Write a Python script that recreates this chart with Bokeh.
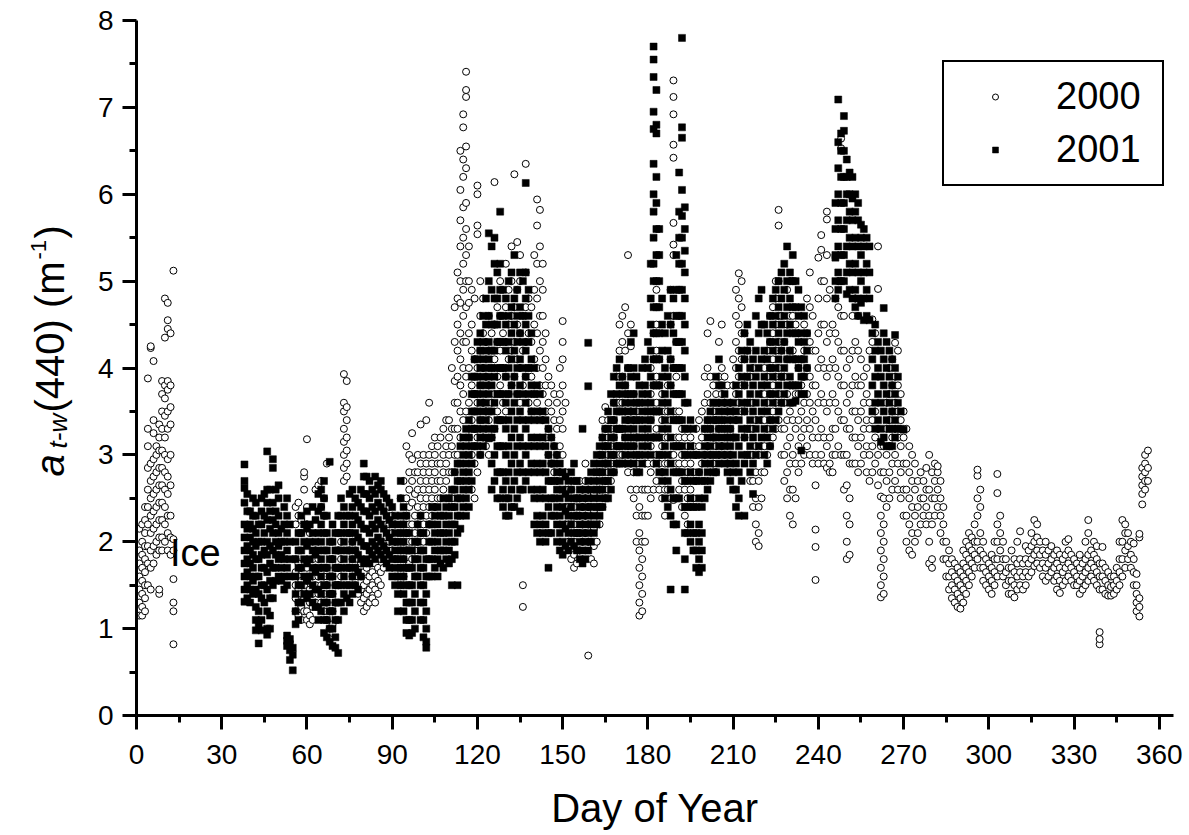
from math import pi

from bokeh.plotting import figure
from bokeh.layouts import row
from bokeh.models import ColumnDataSource, FixedTicker, Label, Legend, LegendItem, Range1d
from bokeh.embed import file_html
from bokeh.resources import INLINE

FONT = "Liberation Sans"

x_ticks = [0, 30, 60, 90, 120, 150, 180, 210, 240, 270, 300, 330, 360]
x_minor = [15, 45, 75, 105, 135, 165, 195, 225, 255, 285, 315, 345]
y_ticks = [0, 1, 2, 3, 4, 5, 6, 7, 8]
y_minor = [0.5, 1.5, 2.5, 3.5, 4.5, 5.5, 6.5, 7.5]
years = ["2000", "2001"]

# 2000 (open circles): (day of year, a_t-w(440) readings that day)
y2000_winter = [
    (1, [1.15, 1.3, 1.45, 1.6, 1.75, 1.9, 2.15]),
    (2, [1.15, 1.25, 1.4, 1.55, 1.7, 1.85, 2.0, 2.2]),
    (3, [1.2, 1.35, 1.5, 1.65, 1.8, 1.95, 2.1, 2.25, 2.4]),
    (4, [1.5, 1.75, 1.95, 2.2, 2.4, 2.6, 2.85, 3.1, 3.3, 3.88]),
    (5, [1.45, 1.7, 1.9, 2.1, 2.3, 2.5, 2.7, 2.9, 4.23, 4.25]),
    (6, [1.75, 1.95, 2.15, 2.35, 2.55, 2.75, 2.95, 3.25, 3.4, 4.08]),
    (7, [1.85, 2.0, 2.2, 2.4, 2.6, 2.8, 3.0, 3.1]),
    (8, [1.4, 1.45, 1.9, 2.05, 2.25, 2.45, 2.65, 2.85, 3.05, 3.2, 3.35]),
    (9, [1.9, 2.05, 2.25, 2.45, 2.65, 2.85, 3.05, 3.3, 3.5, 3.7, 3.85]),
    (10, [2.0, 2.2, 2.4, 2.6, 2.8, 3.0, 3.2, 3.45, 3.65, 3.8, 4.35, 4.8]),
    (11, [1.9, 2.1, 2.3, 2.55, 2.75, 2.95, 3.3, 3.5, 3.75, 3.85, 4.45, 4.55, 4.75]),
    (12, [1.85, 2.05, 2.3, 2.65, 3.0, 3.35, 3.55, 3.8, 4.4]),
    (13, [0.82, 1.2, 1.3, 1.57, 1.9, 2.03, 5.12]),
]

y2000_spring = [
    (56, [1.2, 1.35, 1.5, 1.65, 1.8, 2.2, 2.4]),
    (57, [1.15, 1.3, 1.45, 1.6, 1.75, 2.3, 2.45]),
    (58, [1.1, 1.25, 1.4, 1.55, 1.7, 2.1, 2.25]),
    (59, [1.2, 1.35, 1.5, 2.6, 2.75, 2.8]),
    (60, [1.1, 1.2, 1.4, 1.55, 1.7, 2.2, 2.4, 3.18]),
    (61, [1.05, 1.15, 1.3, 1.45, 1.6, 2.1]),
    (62, [1.1, 1.25, 1.4, 1.6, 1.8]),
    (63, [1.3, 1.5, 1.7, 1.9, 2.6]),
    (64, [1.4, 1.6, 1.8, 2.65]),
    (65, [1.3, 1.5, 1.7, 2.4, 2.7]),
    (66, [1.2, 1.4, 1.6, 2.3, 2.5]),
    (67, [1.1, 1.3, 1.5, 1.7, 2.9]),
    (68, [0.88, 1.0, 1.2, 1.4, 1.6]),
    (69, [1.05, 1.2, 1.4, 1.6, 1.8]),
    (70, [1.3, 1.5, 1.7]),
    (71, [1.5, 1.7, 1.9]),
    (72, [1.6, 1.8, 2.0]),
    (73, [2.7, 2.85, 3.0, 3.15, 3.3, 3.5, 3.6, 3.93]),
    (74, [2.75, 2.9, 3.05, 3.2, 3.4, 3.55, 3.85]),
    (75, [1.7, 1.9, 2.1]),
    (76, [1.6, 1.8, 2.0]),
    (77, [1.5, 1.7, 1.9]),
    (78, [1.4, 1.6, 1.8]),
    (79, [1.3, 1.45, 1.6, 1.75]),
    (80, [1.2, 1.35, 1.5, 1.65]),
    (81, [1.25, 1.4, 1.55, 1.7]),
    (82, [1.3, 1.45, 1.6, 1.75]),
    (83, [1.35, 1.5, 1.65, 1.8]),
    (84, [1.3, 1.45, 1.6, 1.75]),
    (85, [1.4, 1.55, 1.7, 1.85]),
    (86, [1.5, 1.65, 1.8, 1.95]),
    (87, [1.7, 1.85, 2.0]),
    (88, [1.9, 2.05, 2.2]),
    (89, [2.0, 2.2, 2.4]),
    (90, [1.9, 2.1, 2.3]),
    (91, [1.8, 2.0, 2.2]),
    (92, [1.6, 1.8, 2.0]),
    (93, [1.5, 1.7, 1.9, 2.1, 2.5]),
    (94, [1.6, 1.8, 2.0, 2.2, 2.7]),
    (95, [1.7, 1.9, 2.1, 2.3, 2.5, 3.1]),
    (96, [1.75, 2.0, 2.2, 2.4, 2.6, 2.8, 3.0]),
    (97, [1.8, 2.0, 2.2, 2.45, 2.7, 2.95, 3.25]),
    (98, [1.9, 2.1, 2.3, 2.55, 2.8]),
    (99, [2.0, 2.2, 2.4, 2.6, 2.8, 3.0]),
    (100, [2.1, 2.3, 2.5, 2.7, 2.9, 3.35]),
    (101, [2.0, 2.2, 2.4, 2.6, 2.8, 3.0]),
    (102, [2.1, 2.3, 2.5, 2.7, 2.9, 3.4]),
    (103, [2.2, 2.4, 2.6, 2.8, 3.0, 3.6]),
    (104, [2.3, 2.5, 2.7, 2.9, 3.1]),
    (105, [2.4, 2.6, 2.8, 3.0, 3.2]),
    (106, [2.5, 2.7, 2.9, 3.1]),
    (107, [2.5, 2.7, 2.9, 3.2]),
    (108, [2.6, 2.8, 3.0, 3.3]),
    (109, [2.7, 2.9, 3.1, 3.4]),
    (110, [2.5, 2.8, 3.0, 3.2, 3.4]),
    (111, [2.5, 2.8, 3.1, 3.3, 4.0]),
    (112, [2.8, 3.0, 3.3, 3.6, 3.85, 4.3, 4.7]),
    (113, [3.0, 3.3, 3.6, 3.9, 4.2, 4.5, 4.8, 5.1]),
    (114, [3.2, 3.5, 3.8, 4.1, 4.4, 4.75, 5.0, 5.4, 5.7, 6.05, 6.5]),
    (115, [3.4, 3.7, 4.0, 4.3, 4.6, 4.9, 5.2, 5.5, 5.85, 6.2, 6.4, 6.77, 6.92]),
    (116, [3.5, 3.9, 4.3, 4.7, 5.0, 5.3, 5.6, 5.9, 6.3, 6.55, 7.12, 7.2, 7.41]),
    (117, [3.2, 3.6, 4.0, 4.4, 4.75, 5.0, 5.4]),
    (118, [2.6, 3.0, 3.4, 3.8, 4.2, 4.5, 4.9]),
    (119, [2.5, 2.9, 3.3, 3.7, 4.1, 4.8]),
    (120, [2.8, 3.2, 3.6, 4.0, 5.54, 5.64, 6.0, 6.1]),
    (121, [3.0, 3.4, 3.8, 4.2, 4.6, 5.0]),
    (122, [3.2, 3.6, 4.0, 4.4, 4.8]),
    (123, [3.1, 3.5, 3.9, 4.3]),
    (124, [3.0, 3.4, 3.8, 4.2, 4.6]),
    (125, [3.2, 3.6, 4.0, 4.4]),
    (126, [3.3, 3.7, 4.1, 4.5, 6.14]),
    (127, [3.5, 3.9, 4.3, 4.7]),
    (128, [3.4, 3.8, 4.2, 4.6, 5.0]),
    (129, [3.6, 4.0, 4.4]),
    (130, [3.5, 3.9, 4.3, 4.7, 5.2]),
    (131, [3.7, 4.1, 4.5, 4.9]),
    (132, [3.8, 4.2, 4.6, 5.0, 5.4]),
    (133, [3.9, 4.3, 4.7, 6.23]),
    (134, [3.7, 4.1, 4.5, 4.9, 5.45]),
    (135, [3.6, 4.0, 4.4, 5.0, 5.3]),
    (136, [1.25, 1.5, 3.8, 4.2, 4.6]),
    (137, [3.9, 4.3, 4.7, 5.1, 6.35]),
    (138, [3.6, 4.0, 4.4, 4.8]),
    (139, [3.5, 3.9, 4.3, 4.7]),
    (140, [3.7, 4.1, 4.5, 4.9, 5.3]),
    (141, [3.6, 4.0, 4.4, 4.8, 5.2, 5.64, 5.94]),
    (142, [3.5, 3.8, 4.2, 4.6, 5.0, 5.4, 5.82]),
    (143, [3.4, 3.7, 4.0, 4.3, 4.6, 4.9, 5.2]),
    (144, [3.2, 3.5, 3.8, 4.1, 4.4]),
    (145, [3.0, 3.3, 3.6, 3.9]),
    (146, [2.9, 3.2, 3.5, 3.8]),
    (147, [2.8, 3.1, 3.4, 3.7]),
    (148, [2.7, 3.0, 3.3, 3.6]),
    (149, [2.8, 3.1, 3.4, 3.7, 4.0]),
    (150, [3.0, 3.3, 3.5, 3.8, 4.1, 4.3, 4.54]),
]

y2000_summer = [
    (151, [2.2, 2.4, 2.6, 2.8, 3.6]),
    (152, [2.0, 2.2, 2.4, 2.6]),
    (153, [1.8, 2.0, 2.2, 2.4, 2.6]),
    (154, [1.7, 1.85, 2.0, 2.2, 2.4]),
    (155, [1.75, 1.9, 2.1, 2.3, 2.5]),
    (156, [1.9, 2.1, 2.3, 2.5, 2.7]),
    (157, [2.0, 2.2, 2.4, 2.6]),
    (158, [2.1, 2.3, 2.5, 2.7, 2.9]),
    (159, [0.69, 2.0, 2.2, 2.4, 2.6]),
    (160, [1.8, 2.0, 2.2, 2.4]),
    (161, [1.75, 1.95, 2.15, 2.35, 2.55]),
    (162, [2.0, 2.2, 2.4, 2.6, 2.8]),
    (163, [2.2, 2.4, 2.6, 2.8, 3.0]),
    (164, [2.4, 2.6, 2.8, 3.0, 3.2, 3.4]),
    (165, [2.5, 2.7, 2.9, 3.1, 3.3, 3.55]),
    (166, [2.6, 2.8, 3.0, 3.2, 3.4]),
    (167, [2.7, 2.9, 3.1, 3.3]),
    (168, [2.8, 3.0, 3.2, 3.4, 3.6]),
    (169, [2.9, 3.1, 3.3, 3.6, 3.9]),
    (170, [3.0, 3.3, 3.6, 3.9, 4.2, 4.5]),
    (171, [3.0, 3.3, 3.6, 3.9, 4.3, 4.6]),
    (172, [2.9, 3.2, 3.5, 3.8, 4.2, 4.7]),
    (173, [2.8, 3.1, 3.4, 3.7, 4.0, 4.4, 5.3]),
    (174, [2.6, 2.9, 3.2, 3.5, 4.25, 4.5]),
    (175, [2.5, 2.8, 3.1, 3.4, 3.7]),
    (176, [2.0, 2.3, 2.6, 2.9, 3.2, 3.5]),
    (177, [1.15, 1.3, 1.5, 1.7, 1.9, 2.1, 2.4]),
    (178, [1.2, 1.4, 1.6, 1.8, 2.0, 2.3, 2.6]),
    (179, [2.0, 2.3, 2.6, 2.9, 3.2]),
    (180, [2.3, 2.6, 2.9, 3.2, 3.5]),
    (181, [2.5, 2.8, 3.1, 3.4, 3.7, 4.0]),
    (182, [2.6, 2.9, 3.2, 3.5, 3.8, 4.1, 4.4]),
    (183, [2.7, 3.0, 3.3, 3.6, 3.9, 4.2, 4.5, 4.9]),
    (184, [2.6, 2.9, 3.2, 3.5, 3.8, 4.1]),
    (185, [2.5, 2.8, 3.1, 3.4, 3.7]),
    (186, [2.3, 2.6, 2.9, 3.2, 3.5]),
    (187, [2.6, 2.9, 3.2, 3.5, 3.8]),
    (188, [2.5, 3.0, 3.4, 3.8, 4.1, 4.5, 4.9]),
    (189, [2.48, 3.0, 3.5, 4.0, 4.6, 5.3, 5.42, 5.67, 6.42, 6.57, 6.92, 7.12, 7.31]),
    (190, [2.9, 3.2, 3.5, 3.9, 4.3]),
    (191, [2.6, 2.9, 3.2, 3.5]),
    (192, [2.4, 2.7, 3.0, 3.3]),
    (193, [2.3, 2.6, 2.9, 3.2]),
    (194, [2.2, 2.5, 2.8, 3.1]),
    (195, [2.4, 2.6, 2.9, 3.2]),
    (196, [2.5, 2.8, 3.1]),
    (197, [2.7, 3.0, 3.3]),
    (198, [2.8, 3.1, 3.4]),
    (199, [2.9, 3.2, 3.5]),
    (200, [3.0, 3.3, 3.6, 3.9]),
    (201, [3.1, 3.4, 3.7, 4.0, 4.4]),
    (202, [3.0, 3.3, 3.6, 3.9, 4.54]),
    (203, [2.9, 3.2, 3.5, 3.8]),
    (204, [2.8, 3.1, 3.4, 3.7]),
    (205, [3.0, 3.3, 3.6, 3.9, 4.3]),
    (206, [3.1, 3.4, 3.7, 4.0, 4.5]),
    (207, [3.0, 3.3, 3.6, 3.9]),
    (208, [2.9, 3.2, 3.5, 3.8]),
    (209, [3.0, 3.3, 3.6]),
    (210, [3.2, 3.5, 3.8, 4.1]),
    (211, [3.4, 3.7, 4.0, 4.3, 4.6, 4.9]),
    (212, [3.6, 3.9, 4.2, 4.5, 4.8, 5.09]),
    (213, [3.5, 3.8, 4.1, 4.4, 4.7, 5.0]),
    (214, [3.2, 3.5, 3.8, 4.1, 4.4]),
    (215, [3.0, 3.3, 3.6, 3.9, 4.2]),
    (216, [2.7, 3.0, 3.3, 3.6, 3.9]),
    (217, [2.4, 2.7, 3.0, 3.3, 3.6, 4.0]),
    (218, [2.0, 2.2, 2.5, 2.8, 3.1, 3.4]),
    (219, [1.95, 2.1, 2.4, 2.7, 3.0]),
    (220, [2.5, 2.8, 3.1, 3.4, 3.7]),
    (221, [2.8, 3.1, 3.4, 3.7, 4.0]),
    (222, [3.0, 3.3, 3.6, 3.9, 4.2]),
    (223, [3.1, 3.4, 3.7, 4.0, 4.3, 4.6]),
    (224, [3.2, 3.5, 3.8, 4.1, 4.4, 4.7]),
    (225, [3.3, 3.6, 3.9, 4.2, 4.5, 4.8, 5.0]),
    (226, [3.4, 3.7, 4.0, 4.3, 4.6, 5.0, 5.64, 5.82]),
    (227, [3.0, 3.3, 3.6, 3.9, 4.2, 4.6]),
    (228, [2.7, 3.0, 3.3, 3.6, 3.9, 4.3]),
    (229, [2.5, 2.8, 3.1, 3.4, 3.7, 4.1, 4.5, 4.9]),
    (230, [2.3, 2.6, 2.9, 3.2, 3.5, 3.8, 4.2, 4.6, 5.0]),
    (231, [2.2, 2.6, 3.0, 3.4, 3.8, 4.2, 4.6, 5.0]),
    (232, [2.5, 2.9, 3.3, 3.7, 4.1, 4.5]),
    (233, [2.8, 3.1, 3.4, 3.7, 4.0, 4.4]),
    (234, [2.9, 3.2, 3.5, 3.8, 4.1]),
    (235, [3.0, 3.3, 3.6, 3.9, 4.2, 4.5]),
    (236, [3.1, 3.4, 3.7, 4.0, 4.4, 4.8]),
    (237, [3.0, 3.3, 3.6, 3.9, 4.3, 4.7, 5.1]),
    (238, [2.9, 3.2, 3.5, 3.8, 4.2, 4.6]),
    (239, [1.56, 1.94, 2.14, 2.65, 3.0, 3.4, 3.8, 4.2]),
    (240, [2.9, 3.2, 3.6, 4.0, 4.4, 4.8, 5.27]),
    (241, [3.0, 3.3, 3.7, 4.1, 4.5, 5.0, 5.36, 5.53]),
    (242, [2.9, 3.2, 3.6, 4.0, 4.5, 5.0]),
    (243, [2.85, 3.1, 3.5, 3.9, 4.3, 4.8, 5.3, 5.71, 5.8]),
    (244, [2.8, 2.9, 3.2, 3.6, 4.0, 4.4, 4.9]),
    (245, [2.8, 3.0, 3.3, 3.7, 4.1, 4.5]),
    (246, [3.0, 3.3, 3.6, 4.0, 4.4, 4.8]),
    (247, [3.1, 3.5, 3.9, 4.3, 4.7, 5.0]),
    (248, [3.0, 3.4, 3.8, 4.2, 4.6, 5.0, 6.53, 6.64]),
    (249, [2.6, 3.0, 3.4, 3.8, 4.2, 4.6]),
    (250, [1.8, 2.0, 2.3, 2.65, 3.0, 3.3, 3.6, 4.0]),
]

y2000_autumn = [
    (251, [1.85, 2.2, 2.5, 2.9, 3.3, 3.7, 4.1]),
    (252, [2.9, 3.2, 3.5, 3.8, 4.2, 4.6]),
    (253, [2.9, 3.2, 3.5, 3.9, 4.3, 4.8]),
    (254, [2.8, 3.1, 3.4, 3.8, 4.2, 4.6]),
    (255, [2.9, 3.2, 3.5, 3.8, 4.1]),
    (256, [3.0, 3.3, 3.6, 3.9]),
    (257, [2.8, 3.1, 3.4, 3.7, 4.0]),
    (258, [2.7, 3.0, 3.3, 3.6, 4.2]),
    (259, [2.8, 3.1, 3.4, 4.3, 4.56]),
    (260, [2.9, 3.2, 3.5, 4.4]),
    (261, [2.65, 3.0, 3.3, 4.91, 5.4]),
    (262, [1.36, 1.5, 1.7, 1.9, 2.1, 2.3, 2.52, 2.8, 3.1]),
    (263, [1.4, 1.6, 1.8, 2.0, 2.2, 2.5, 2.8, 3.1]),
    (264, [2.4, 2.7, 3.0, 3.3, 3.6]),
    (265, [2.5, 2.8, 3.1, 3.4, 3.7, 4.0]),
    (266, [2.6, 2.9, 3.2, 3.5, 3.8, 4.1]),
    (267, [2.7, 3.0, 3.3, 3.6, 3.9, 4.29]),
    (268, [2.6, 2.9, 3.2, 3.5, 3.8, 4.2]),
    (269, [2.5, 2.8, 3.1, 3.4, 3.7]),
    (270, [2.3, 2.6, 2.9, 3.2, 3.5]),
    (271, [2.0, 2.3, 2.6, 2.9, 3.3]),
    (272, [1.9, 2.2, 2.5, 2.8, 3.1]),
    (273, [1.85, 2.1, 2.4, 2.7, 3.0]),
    (274, [2.0, 2.3, 2.6, 2.9]),
    (275, [2.1, 2.4, 2.7]),
    (276, [2.2, 2.5, 2.8]),
    (277, [2.3, 2.5, 2.7]),
    (278, [2.2, 2.4, 2.6, 2.85]),
    (279, [1.75, 2.0, 2.3, 2.6, 3.0]),
    (280, [1.7, 1.8, 2.2, 2.5, 2.8]),
    (281, [2.3, 2.5, 2.7, 2.9]),
    (282, [2.4, 2.6, 2.8, 2.87]),
    (283, [2.1, 2.3, 2.5, 2.7]),
    (284, [1.8, 2.0, 2.2, 2.4]),
    (285, [1.6, 1.8, 2.0]),
    (286, [1.45, 1.6, 1.75, 1.9]),
    (287, [1.35, 1.5, 1.65, 1.8]),
    (288, [1.3, 1.45, 1.6, 1.75]),
    (289, [1.25, 1.4, 1.55, 1.7]),
    (290, [1.23, 1.35, 1.5, 1.65]),
    (291, [1.3, 1.45, 1.6, 1.75, 1.9]),
    (292, [1.4, 1.55, 1.7, 1.85, 2.0]),
    (293, [1.5, 1.65, 1.8, 1.95, 2.1]),
    (294, [1.6, 1.75, 1.9, 2.05]),
    (295, [1.7, 1.85, 2.0, 2.2]),
    (296, [1.8, 2.0, 2.3, 2.5, 2.76, 2.83]),
    (297, [1.7, 1.9, 2.1, 2.4, 2.6]),
    (298, [1.55, 1.7, 1.85, 2.0]),
    (299, [1.5, 1.65, 1.8]),
    (300, [1.45, 1.6, 1.75]),
    (301, [1.4, 1.55, 1.7, 1.85]),
    (302, [1.5, 1.65, 1.8, 2.0]),
    (303, [1.6, 1.8, 2.0, 2.2, 2.56, 2.78]),
    (304, [1.7, 1.9, 2.1, 2.3]),
    (305, [1.6, 1.8, 2.0]),
    (306, [1.5, 1.65, 1.8]),
    (307, [1.4, 1.55, 1.7]),
    (308, [1.4, 1.55, 1.7, 1.9]),
    (309, [1.36, 1.5, 1.65, 1.8]),
    (310, [1.45, 1.6, 1.75, 2.0]),
    (311, [1.5, 1.65, 1.8, 2.12]),
    (312, [1.45, 1.6, 1.75]),
    (313, [1.5, 1.65, 1.8, 1.95]),
    (314, [1.6, 1.75, 1.9]),
    (315, [1.65, 1.8, 1.95, 2.1]),
    (316, [1.72, 1.85, 2.0, 2.25]),
    (317, [1.75, 1.9, 2.05, 2.2]),
    (318, [1.7, 1.85, 2.0]),
    (319, [1.6, 1.75, 1.9]),
    (320, [1.55, 1.7, 1.85, 2.0]),
    (321, [1.6, 1.75, 1.9]),
    (322, [1.65, 1.8, 1.95]),
    (323, [1.55, 1.7, 1.85]),
    (324, [1.45, 1.6, 1.75, 1.9]),
    (325, [1.41, 1.55, 1.7, 1.85]),
    (326, [1.5, 1.65, 1.8]),
    (327, [1.55, 1.7, 1.85, 2.0]),
    (328, [1.6, 1.75, 1.9, 2.03]),
    (329, [1.55, 1.7, 1.85]),
    (330, [1.5, 1.65, 1.8]),
    (331, [1.5, 1.6, 1.75]),
    (332, [1.4, 1.55, 1.7, 1.85]),
    (333, [1.45, 1.6, 1.75]),
    (334, [1.5, 1.65, 1.8, 2.0]),
    (335, [1.55, 1.7, 1.85, 2.1, 2.25]),
    (336, [1.6, 1.75, 1.9]),
    (337, [1.55, 1.7, 1.85, 2.0]),
    (338, [1.5, 1.65, 1.8, 1.95]),
    (339, [0.82, 0.88, 0.96, 1.45, 1.6, 1.75]),
    (340, [1.45, 1.6, 1.75, 1.94]),
    (341, [1.4, 1.55, 1.7]),
    (342, [1.38, 1.5, 1.65]),
    (343, [1.38, 1.48, 1.6]),
    (344, [1.4, 1.5, 1.6]),
    (345, [1.45, 1.55, 1.7]),
    (346, [1.5, 1.65, 1.8, 2.0]),
    (347, [1.6, 1.8, 2.0, 2.25]),
    (348, [1.7, 1.9, 2.1, 2.2]),
    (349, [1.8, 1.95, 2.1]),
    (350, [1.7, 1.85, 2.0]),
    (351, [1.5, 1.65, 1.8, 1.98]),
    (352, [1.2, 1.3, 1.4, 1.5, 1.63]),
    (353, [1.14, 1.25, 1.35, 2.05, 2.09]),
    (354, [2.43, 2.55, 2.65, 2.75, 2.85]),
    (355, [2.6, 2.7, 2.8, 2.9, 3.0]),
    (356, [2.7, 2.85, 3.05]),
]

# 2001 (filled squares)
y2001_spring = [
    (38, [2.89, 2.7, 2.62, 2.45, 2.2, 2.05, 1.9, 1.75, 1.6, 1.45, 1.31]),
    (39, [2.55, 2.35, 2.15, 1.95, 1.8, 1.65, 1.5, 1.35]),
    (40, [2.35, 2.2, 2.05, 1.9, 1.75, 1.6, 1.45, 1.3]),
    (41, [2.5, 2.3, 2.15, 2.0, 1.85, 1.7, 1.55, 1.4]),
    (42, [2.45, 2.3, 2.1, 1.95, 1.8, 1.6, 1.45, 1.25, 1.1, 0.98]),
    (43, [2.2, 2.0, 1.8, 1.6, 1.4, 1.2, 1.05, 0.83]),
    (44, [2.5, 2.35, 2.2, 2.0, 1.85, 1.7, 1.5, 1.35, 1.1, 0.98]),
    (45, [2.55, 2.3, 2.1, 1.9, 1.7, 1.5, 1.3]),
    (46, [3.04, 2.6, 2.45, 2.25, 2.0, 1.85, 1.65, 1.45, 1.2, 1.0, 0.93]),
    (47, [2.6, 2.35, 2.15, 1.95, 1.75, 1.55, 1.35, 1.15, 1.0]),
    (48, [2.95, 2.85, 2.45, 2.25, 2.1, 1.9, 1.7, 1.5, 1.35]),
    (49, [2.6, 2.35, 2.2, 2.0, 1.85, 1.7, 1.55]),
    (50, [2.65, 2.5, 2.3, 2.1, 1.95, 1.8, 1.6]),
    (51, [2.15, 2.0, 1.85, 1.7, 1.55]),
    (52, [2.4, 2.2, 2.0, 1.8, 1.6, 1.45]),
    (53, [2.5, 2.3, 2.1, 1.9, 1.7, 1.5, 0.92, 0.86, 0.8]),
    (54, [2.2, 2.0, 1.8, 1.6, 0.88, 0.82, 0.75, 0.64]),
    (55, [0.78, 0.7, 0.52]),
    (56, [2.0, 1.8, 1.6, 1.4, 1.2, 1.05]),
    (57, [2.1, 1.9, 1.7, 1.5, 1.3, 1.1]),
    (58, [2.3, 2.1, 1.9, 1.7, 1.5, 1.3]),
    (59, [2.2, 2.0, 1.8, 1.6, 1.4]),
    (60, [2.35, 2.15, 1.95, 1.75, 1.55, 1.35]),
    (61, [2.2, 2.0, 1.8, 1.6, 1.4]),
    (62, [2.4, 2.1, 1.9, 1.7, 1.5, 1.3]),
    (63, [2.25, 2.0, 1.85, 1.65, 1.45, 1.25]),
    (64, [2.55, 2.35, 2.1, 1.9, 1.7, 1.45, 1.25, 1.1]),
    (65, [2.6, 2.4, 2.2, 2.0, 1.8, 1.6, 1.4, 1.2]),
    (66, [2.7, 2.5, 2.3, 2.1, 1.9, 1.7, 1.5, 1.3, 1.1, 0.95]),
    (67, [2.3, 2.1, 1.9, 1.7, 1.5, 1.3, 1.1, 0.9]),
    (68, [2.92, 2.0, 1.8, 1.6, 1.4, 1.2, 1.0, 0.85]),
    (69, [2.2, 2.0, 1.8, 1.6, 1.4, 1.2, 1.0, 0.8]),
    (70, [2.1, 1.9, 1.7, 1.5, 1.3, 1.1, 0.9, 0.78]),
    (71, [2.3, 2.1, 1.9, 1.7, 1.5, 1.3, 1.1, 0.72]),
    (72, [2.5, 2.3, 2.1, 1.9, 1.7, 1.5, 1.3]),
    (73, [2.4, 2.2, 2.0, 1.8, 1.6, 1.4, 1.2]),
    (74, [2.3, 2.1, 1.9, 1.7, 1.5, 1.35]),
    (75, [2.55, 2.3, 2.1, 1.9, 1.7, 1.5, 1.3]),
    (76, [2.6, 2.4, 2.2, 2.0, 1.8, 1.6, 1.4]),
    (77, [2.5, 2.3, 2.1, 1.9, 1.7, 1.5]),
    (78, [2.45, 2.25, 2.05, 1.85, 1.65, 1.45]),
    (79, [2.6, 2.4, 2.2, 2.0, 1.8, 1.6]),
    (80, [2.9, 2.75, 2.55, 2.35, 2.15, 1.95, 1.75]),
    (81, [2.75, 2.55, 2.35, 2.15, 1.95, 1.8]),
    (82, [2.7, 2.5, 2.3, 2.1, 1.9, 1.75]),
    (83, [2.6, 2.4, 2.2, 2.0, 1.85]),
    (84, [2.75, 2.55, 2.35, 2.15, 1.95, 1.8]),
    (85, [2.65, 2.45, 2.25, 2.05, 1.9]),
    (86, [2.7, 2.6, 2.4, 2.2, 2.0, 1.85]),
    (87, [2.55, 2.35, 2.15, 1.95, 1.8]),
    (88, [2.5, 2.3, 2.1, 1.9, 1.75]),
    (89, [2.45, 2.25, 2.05, 1.85, 1.7]),
    (90, [2.4, 2.2, 2.0, 1.8, 1.6]),
    (91, [2.3, 2.1, 1.9, 1.7, 1.5]),
    (92, [2.2, 2.0, 1.8, 1.6, 1.4, 1.2]),
    (93, [2.7, 2.5, 2.3, 2.1, 1.9, 1.7, 1.5]),
    (94, [2.4, 2.2, 2.0, 1.8, 1.6, 1.4, 1.2]),
    (95, [2.3, 2.1, 1.9, 1.7, 1.5, 1.3, 1.1, 0.95]),
    (96, [2.1, 1.9, 1.7, 1.5, 1.3, 1.1, 0.92]),
    (97, [1.9, 1.7, 1.5, 1.3, 1.1, 0.95]),
    (98, [2.0, 1.8, 1.6, 1.4, 1.2, 1.0]),
    (99, [2.2, 2.0, 1.8, 1.6]),
    (100, [2.3, 2.1, 1.9, 1.7, 1.5, 1.3, 1.1]),
    (101, [2.1, 1.9, 1.7, 1.5, 1.3, 1.1, 0.9]),
    (102, [1.8, 1.6, 1.4, 1.2, 1.0, 0.85, 0.78]),
    (103, [2.2, 2.0, 1.8, 1.6]),
    (104, [2.4, 2.2, 2.0, 1.8, 1.6]),
    (105, [2.3, 2.1, 1.9, 1.7]),
    (106, [2.4, 2.2, 2.0, 1.8, 1.6]),
    (107, [2.3, 2.1, 1.9, 1.75]),
    (108, [2.5, 2.3, 2.1, 1.9, 1.7]),
    (109, [2.4, 2.2, 2.0, 1.8]),
    (110, [2.5, 2.3, 2.1, 1.9, 1.75]),
    (111, [2.6, 2.4, 2.2, 2.0, 1.8, 1.5]),
    (112, [2.8, 2.6, 2.4, 2.2, 2.0, 1.85]),
]

y2001_summer = [
    (113, [2.9, 2.7, 2.5, 2.3, 2.1, 1.5]),
    (114, [3.1, 2.9, 2.7, 2.5, 2.3, 2.15]),
    (115, [3.2, 3.0, 2.8, 2.6, 2.4]),
    (116, [3.3, 3.1, 2.9, 2.7, 2.5, 2.3]),
    (117, [3.4, 3.2, 3.0, 2.8, 2.6, 2.4]),
    (118, [3.9, 3.7, 3.5, 3.3, 3.1, 2.9, 2.7]),
    (119, [4.1, 3.9, 3.7, 3.5, 3.3, 3.1]),
    (120, [4.3, 4.1, 3.9, 3.7, 3.5, 3.3, 3.1]),
    (121, [4.4, 4.2, 4.0, 3.8, 3.6, 3.4, 3.2, 3.0]),
    (122, [4.6, 4.3, 4.1, 3.9, 3.7, 3.5, 3.3, 3.1]),
    (123, [4.8, 4.5, 4.2, 4.0, 3.8, 3.6, 3.4, 3.2]),
    (124, [5.55, 5.0, 4.6, 4.3, 4.1, 3.9, 3.7, 3.5, 3.3, 3.19]),
    (125, [5.4, 4.9, 4.5, 4.2, 4.0, 3.8, 3.5, 3.2, 2.9, 2.6]),
    (126, [5.5, 5.2, 4.8, 4.5, 4.2, 3.9, 3.6, 3.3, 3.0, 2.7]),
    (127, [5.1, 4.8, 4.5, 4.3, 4.0, 3.7, 3.4, 3.1, 2.8, 2.5]),
    (128, [5.8, 5.2, 4.9, 4.6, 4.3, 4.0, 3.7, 3.4, 3.1, 2.8, 2.5]),
    (129, [4.9, 4.6, 4.3, 4.0, 3.7, 3.4, 3.1, 2.8, 2.6, 2.4]),
    (130, [4.8, 4.5, 4.2, 3.9, 3.6, 3.3, 3.0, 2.7, 2.5, 2.3]),
    (131, [5.0, 4.6, 4.3, 4.0, 3.7, 3.4, 3.1, 2.8, 2.5, 2.3]),
    (132, [5.1, 4.7, 4.4, 4.1, 3.8, 3.5, 3.2, 2.9, 2.6, 2.4]),
    (133, [5.3, 4.8, 4.5, 4.2, 3.9, 3.6, 3.3, 3.0, 2.7, 2.4]),
    (134, [4.9, 4.6, 4.3, 4.0, 3.7, 3.4, 3.1, 2.8, 2.5]),
    (135, [5.1, 4.7, 4.4, 4.1, 3.8, 3.5, 3.2, 2.9, 2.6, 2.35]),
    (136, [5.0, 4.6, 4.3, 4.0, 3.7, 3.4, 3.1, 2.8, 2.6]),
    (137, [6.13, 5.1, 4.8, 4.5, 4.2, 3.9, 3.6, 3.3, 3.0, 2.7]),
    (138, [4.9, 4.6, 4.3, 4.0, 3.7, 3.4, 3.1, 2.8]),
    (139, [4.4, 4.1, 3.8, 3.5, 3.2, 2.9, 2.6]),
    (140, [4.0, 3.7, 3.4, 3.1, 2.8, 2.5, 2.2]),
    (141, [3.8, 3.5, 3.2, 2.9, 2.6, 2.3, 2.1]),
    (142, [3.7, 3.4, 3.1, 2.8, 2.5, 2.2, 2.0]),
    (143, [3.5, 3.2, 2.9, 2.6, 2.3, 2.1]),
    (144, [3.4, 3.1, 2.8, 2.5, 2.2, 2.0]),
    (145, [3.3, 3.0, 2.7, 2.4, 2.1, 1.7]),
    (146, [3.2, 2.9, 2.7, 2.5, 2.3, 2.1]),
    (147, [3.1, 2.9, 2.7, 2.5, 2.3]),
    (148, [3.0, 2.8, 2.6, 2.4, 2.2, 2.0]),
    (149, [2.9, 2.7, 2.5, 2.3, 2.1, 1.9]),
    (150, [2.8, 2.6, 2.4, 2.2, 2.0, 1.85]),
    (151, [2.75, 2.55, 2.35, 2.15, 1.95]),
    (152, [2.7, 2.5, 2.3, 2.1, 1.9]),
    (153, [2.8, 2.6, 2.4, 2.2, 2.0]),
    (154, [2.9, 2.7, 2.5, 2.3, 2.1, 1.95]),
    (155, [2.7, 2.5, 2.3, 2.1, 1.9]),
    (156, [2.6, 2.4, 2.2, 2.0, 1.8]),
    (157, [3.3, 2.5, 2.3, 2.1, 1.9, 1.75]),
    (158, [2.6, 2.4, 2.2, 2.0, 1.8]),
    (159, [4.29, 3.79, 2.7, 2.5, 2.3, 2.1, 1.9]),
    (160, [2.8, 2.6, 2.4, 2.2, 2.0]),
    (161, [2.9, 2.7, 2.5, 2.3, 2.1]),
    (162, [3.0, 2.8, 2.6, 2.4, 2.2]),
    (163, [3.1, 2.9, 2.7, 2.5, 2.3]),
    (164, [3.2, 3.0, 2.8, 2.6, 2.4]),
    (165, [3.3, 3.1, 2.9, 2.7, 2.5]),
    (166, [3.5, 3.3, 3.1, 2.9, 2.7, 2.5]),
    (167, [3.7, 3.4, 3.2, 3.0, 2.8, 2.6]),
    (168, [3.9, 3.6, 3.4, 3.2, 3.0, 2.8]),
    (169, [4.0, 3.7, 3.5, 3.3, 3.1, 2.9]),
    (170, [4.1, 3.8, 3.5, 3.3, 3.1, 2.9]),
    (171, [3.9, 3.7, 3.5, 3.3, 3.1, 2.9]),
    (172, [3.8, 3.6, 3.4, 3.2, 3.0]),
    (173, [4.0, 3.7, 3.5, 3.3, 3.1, 2.9]),
    (174, [4.3, 3.9, 3.6, 3.4, 3.2, 3.0]),
    (175, [4.4, 4.0, 3.7, 3.5, 3.3, 3.1, 2.9]),
    (176, [3.9, 3.6, 3.4, 3.2, 3.0, 2.8]),
    (177, [3.8, 3.6, 3.4, 3.2, 3.0, 2.8]),
    (178, [4.0, 3.7, 3.5, 3.3, 3.1, 2.9]),
    (179, [4.1, 3.8, 3.6, 3.4, 3.2, 3.0]),
    (180, [4.3, 4.0, 3.7, 3.5, 3.3, 3.1]),
    (181, [5.2, 4.8, 4.5, 4.2, 3.9, 3.6, 3.4, 3.2, 3.0]),
    (182, [7.7, 7.55, 7.35, 6.95, 6.75, 6.35, 6.0, 5.8, 5.5, 5.2, 5.0, 4.7, 4.4, 4.1, 3.8, 3.5, 3.2]),
    (183, [7.2, 6.8, 6.7, 6.2, 5.9, 5.6, 5.3, 5.0, 4.7, 4.4, 4.1, 3.8, 3.5, 3.2, 2.9]),
    (184, [5.6, 5.3, 5.0, 4.7, 4.4, 4.1, 3.8, 3.5, 3.2, 3.0, 2.8]),
    (185, [4.8, 4.5, 4.2, 3.9, 3.6, 3.3, 3.0, 2.7]),
    (186, [4.4, 4.0, 3.7, 3.4, 3.1, 2.8, 2.5]),
    (187, [4.6, 4.2, 3.9, 3.6, 3.3, 3.0, 2.7, 2.4]),
    (188, [4.9, 4.5, 4.1, 3.8, 3.5, 3.2, 2.9, 2.6, 2.3, 1.45]),
    (189, [4.8, 4.4, 4.0, 3.7, 3.4, 3.1, 2.8, 2.5, 2.2]),
    (190, [5.3, 4.9, 4.6, 4.3, 4.0, 3.7, 3.4, 3.1, 2.8, 2.5, 2.2, 1.9]),
    (191, [6.25, 5.8, 5.5, 5.2, 4.9, 4.6, 4.3, 4.0, 3.7, 3.4, 3.1, 2.8, 2.5]),
    (192, [7.8, 6.77, 6.65, 6.05, 5.75, 5.5, 5.2, 4.9, 4.6, 4.3, 4.0, 3.7, 3.4, 3.1, 2.8]),
    (193, [5.85, 5.6, 5.35, 5.1, 4.8, 4.5, 4.2, 3.9, 3.6, 3.3, 3.0, 2.7, 2.4, 2.1, 1.8, 1.45]),
    (194, [3.6, 3.3, 3.0, 2.7, 2.4, 2.1]),
    (195, [3.4, 3.1, 2.8, 2.5, 2.2, 2.0]),
    (196, [3.3, 3.0, 2.7, 2.4, 2.1, 1.9]),
    (197, [3.0, 2.7, 2.4, 2.1, 1.9, 1.7]),
    (198, [2.8, 2.5, 2.2, 2.0, 1.8, 1.65]),
    (199, [3.0, 2.7, 2.4, 2.1, 1.9, 1.7]),
    (200, [3.3, 3.1, 2.9, 2.7, 2.5]),
]

y2001_autumn = [
    (201, [3.4, 3.2, 3.0, 2.8, 2.6]),
    (202, [3.5, 3.3, 3.1, 2.9, 2.7]),
    (203, [3.6, 3.4, 3.2, 3.0, 2.8]),
    (204, [3.9, 3.6, 3.4, 3.2, 3.0, 2.8]),
    (205, [4.1, 3.8, 3.5, 3.3, 3.1, 2.9]),
    (206, [3.8, 3.6, 3.4, 3.2, 3.0]),
    (207, [3.7, 3.5, 3.3, 3.1, 2.9]),
    (208, [3.6, 3.4, 3.2, 3.0, 2.8]),
    (209, [3.5, 3.3, 3.1, 2.9, 2.7]),
    (210, [3.6, 3.4, 3.2, 3.0, 2.8, 2.6]),
    (211, [3.8, 3.5, 3.2, 2.9, 2.6, 2.4]),
    (212, [4.0, 3.7, 3.4, 3.1, 2.8, 2.5, 2.3]),
    (213, [4.2, 3.9, 3.6, 3.3, 3.0, 2.7]),
    (214, [4.4, 4.1, 3.8, 3.5, 3.2, 2.9, 2.3]),
    (215, [4.5, 4.2, 3.9, 3.6, 3.3, 3.0]),
    (216, [4.3, 4.0, 3.7, 3.4, 3.1, 2.8]),
    (217, [4.1, 3.8, 3.5, 3.2, 2.9, 2.55]),
    (218, [4.6, 4.2, 3.9, 3.6, 3.3, 3.0]),
    (219, [4.8, 4.4, 4.0, 3.7, 3.4, 3.1]),
    (220, [4.9, 4.5, 4.1, 3.8, 3.5, 3.2]),
    (221, [4.5, 4.2, 3.9, 3.6, 3.3, 3.0]),
    (222, [4.4, 4.1, 3.8, 3.5, 3.2, 2.9]),
    (223, [4.6, 4.3, 4.0, 3.7, 3.4, 3.1]),
    (224, [4.8, 4.5, 4.2, 3.9, 3.6, 3.3]),
    (225, [4.9, 4.6, 4.3, 4.0, 3.7, 3.4]),
    (226, [5.0, 4.7, 4.4, 4.1, 3.8, 3.5]),
    (227, [5.1, 4.8, 4.5, 4.2, 3.9, 3.6]),
    (228, [5.2, 4.9, 4.6, 4.3, 4.0, 3.7]),
    (229, [5.4, 5.0, 4.7, 4.4, 4.1, 3.8]),
    (230, [5.1, 4.8, 4.5, 4.2, 3.9, 3.6]),
    (231, [5.3, 5.0, 4.7, 4.4, 4.1, 3.8, 3.6]),
    (232, [5.0, 4.7, 4.4, 4.1, 3.8, 3.62]),
    (233, [4.9, 4.6, 4.3, 4.0, 3.8]),
    (234, [4.7, 4.4, 4.1, 3.9, 3.7, 3.05]),
    (235, [4.6, 4.3, 4.1, 3.9, 3.7]),
    (236, [4.4, 4.2, 4.0]),
    (246, [5.9, 5.6, 5.3, 5.27, 5.0, 4.8]),
    (247, [7.09, 6.6, 6.3, 6.0, 5.7, 5.4, 5.1, 4.9]),
    (248, [6.7, 6.5, 6.2, 5.9, 5.6, 5.3, 5.0]),
    (249, [6.9, 6.73, 6.5, 6.2, 5.9, 5.6, 5.3, 5.0]),
    (250, [6.4, 6.2, 6.0, 5.7, 5.4, 5.1, 4.85]),
    (251, [6.25, 6.0, 5.8, 5.5, 5.2, 4.9]),
    (252, [6.2, 5.95, 5.7, 5.4, 5.1, 4.8]),
    (253, [6.0, 5.8, 5.5, 5.2, 4.9, 4.7]),
    (254, [5.9, 5.7, 5.4, 5.1, 4.8, 4.6]),
    (255, [5.65, 5.5, 5.3, 5.0, 4.75]),
    (256, [5.6, 5.4, 5.1, 4.8, 4.55]),
    (257, [5.5, 5.2, 4.9, 4.6]),
    (258, [5.4, 5.1, 4.8, 4.55]),
    (259, [4.4, 4.1, 3.8, 3.5]),
    (260, [4.5, 4.2, 3.9, 3.6, 3.3]),
    (261, [4.3, 4.0, 3.7, 3.4]),
    (262, [4.2, 3.9, 3.6, 3.3, 3.15]),
    (263, [4.69, 4.4, 4.1, 3.8, 3.5, 3.2]),
    (264, [4.3, 4.0, 3.7, 3.4, 3.1]),
    (265, [4.2, 3.9, 3.6, 3.3, 3.1]),
    (266, [4.1, 3.8, 3.5, 3.3, 3.1]),
    (267, [4.38, 4.0, 3.7, 3.4, 3.2]),
    (268, [3.9, 3.6, 3.3]),
    (269, [3.5, 3.3]),
    (270, [3.29]),
]

# pieces of the y-axis title a_{t-w}(440) (m^-1): (baseline x, start y, text, size, style)
ylabel_parts = [
    (49, 476, "a", "40px", "italic"),
    (57, 448, "t-w", "26px", "italic"),
    (49, 412, "(440) (m", "40px", "normal"),
    (38, 259, "-1", "22px", "normal"),
    (49, 238, ")", "40px", "normal"),
]


def flatten(*segments):
    days, vals = [], []
    for seg in segments:
        for day, readings in seg:
            days.extend([day] * len(readings))
            vals.extend(readings)
    return days, vals


d00, a00 = flatten(y2000_winter, y2000_spring, y2000_summer, y2000_autumn)
d01, a01 = flatten(y2001_spring, y2001_summer, y2001_autumn)

LAB_W = 80  # strip on the left that carries the rotated y title
PAGE_H = 834

# main plot: frame spans page x 136..1173, y 20..715
p = figure(
    width=1185 - LAB_W,
    height=PAGE_H,
    x_range=Range1d(0, 365),
    y_range=Range1d(0, 8),
    output_backend="svg",
    toolbar_location=None,
    min_border_left=136 - LAB_W,
    min_border_right=12,
    min_border_top=20,
    min_border_bottom=PAGE_H - 715,
)

r00 = p.scatter(
    "day", "a", source=ColumnDataSource(dict(day=d00, a=a00)),
    marker="circle", size=7, fill_color="white", line_color="black", line_width=1,
)
r01 = p.scatter(
    "day", "a", source=ColumnDataSource(dict(day=d01, a=a01)),
    marker="square", size=7, fill_color="black", line_color="black", line_width=0.5,
)

# axes
p.xaxis.ticker = FixedTicker(ticks=x_ticks, minor_ticks=x_minor)
p.yaxis.ticker = FixedTicker(ticks=y_ticks, minor_ticks=y_minor)
for ax in (p.xaxis[0], p.yaxis[0]):
    ax.axis_line_width = 3
    ax.axis_line_color = "black"
    ax.major_tick_line_width = 3
    ax.minor_tick_line_width = 3
    ax.major_tick_line_color = "black"
    ax.minor_tick_line_color = "black"
    ax.major_tick_out = 14
    ax.major_tick_in = 0
    ax.minor_tick_out = 7
    ax.minor_tick_in = 0
    ax.major_label_text_font = FONT
    ax.major_label_text_font_size = "28px"
    ax.major_label_text_color = "black"
p.xaxis.major_label_standoff = 15
p.yaxis.major_label_standoff = 9
p.xaxis.axis_label = "Day of Year"
p.xaxis.axis_label_text_font = FONT
p.xaxis.axis_label_text_font_size = "40px"
p.xaxis.axis_label_text_font_style = "normal"
p.xaxis.axis_label_text_color = "black"
p.xaxis.axis_label_standoff = 19
p.xgrid.visible = False
p.ygrid.visible = False
p.outline_line_color = None

# legend
legend = Legend(
    items=[LegendItem(label=years[0], renderers=[r00]), LegendItem(label=years[1], renderers=[r01])],
    location=(806, 529),
    padding=8,
    spacing=0,
    margin=0,
    glyph_width=86,
    glyph_height=15,
    label_height=53,
    label_width=98,
    label_standoff=18,
    label_text_font=FONT,
    label_text_font_size="38px",
    label_text_color="black",
    border_line_color="black",
    border_line_width=2,
    border_line_alpha=1,
    background_fill_color="white",
    background_fill_alpha=1,
)
p.add_layout(legend)

p.add_layout(Label(x=11.8, y=1.63, text="Ice", text_font=FONT, text_font_size="38px",
                   text_color="black"))

# left strip: its frame is aligned with the main frame (page y 20..715),
# so its data units are page pixels
ylab = figure(
    width=LAB_W,
    height=PAGE_H,
    x_range=Range1d(0, LAB_W),
    y_range=Range1d(715, 20),
    output_backend="svg",
    toolbar_location=None,
    min_border=0,
    x_axis_location=None,
    y_axis_location=None,
    outline_line_color=None,
)
ylab.xgrid.visible = False
ylab.ygrid.visible = False
for lx, ly, txt, fs, style in ylabel_parts:
    ylab.add_layout(Label(x=lx, y=ly, text=txt, angle=pi / 2, text_font=FONT,
                          text_font_size=fs, text_font_style=style, text_color="black",
                          text_baseline="alphabetic"))

layout = row(ylab, p)
open("out.html", "w").write(file_html(layout, INLINE))
